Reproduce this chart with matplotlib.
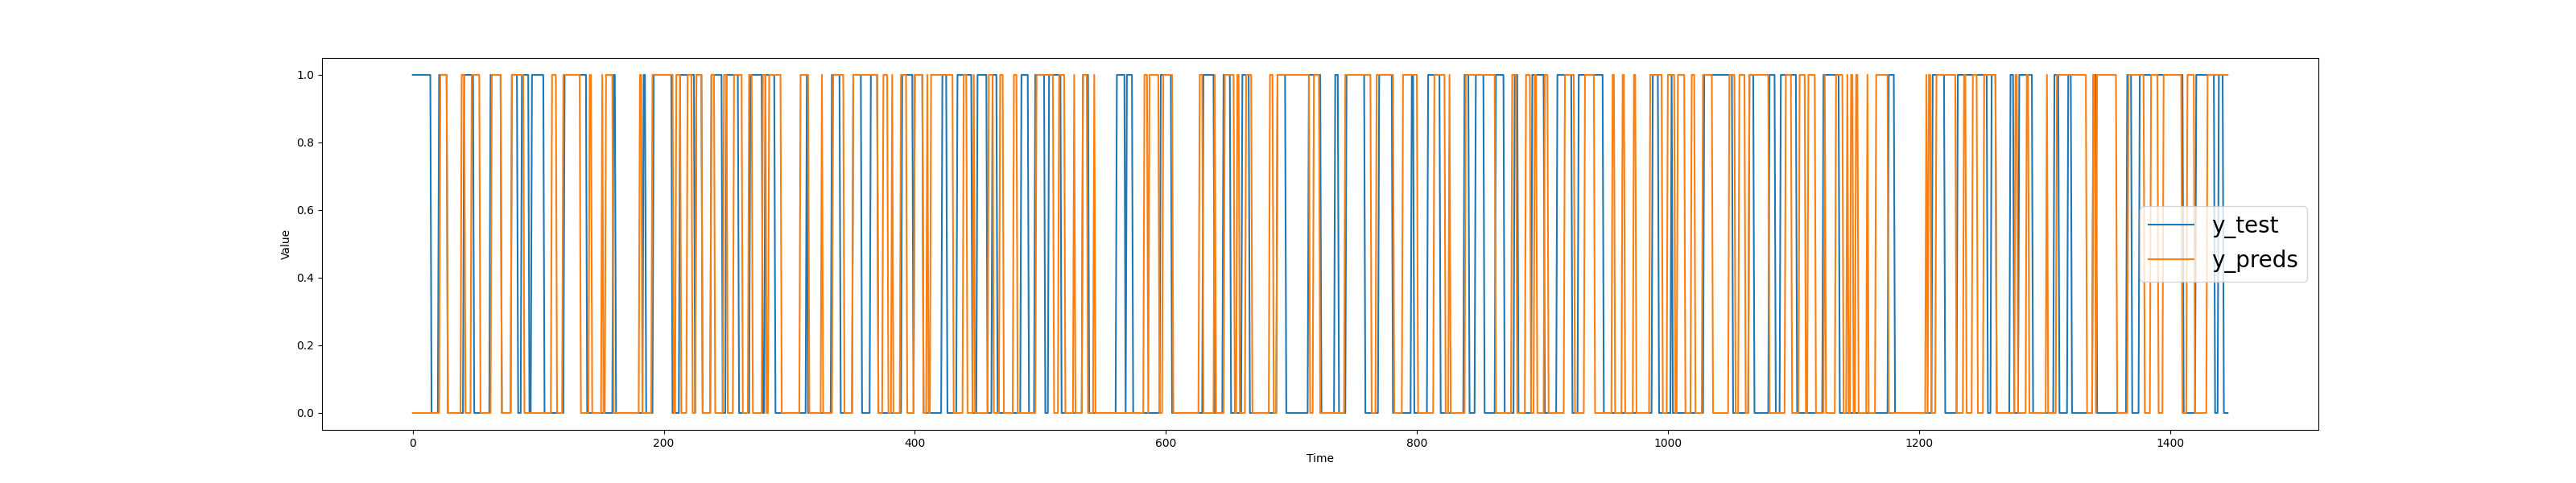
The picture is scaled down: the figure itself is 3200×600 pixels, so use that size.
import numpy as np
import matplotlib
matplotlib.use("Agg")
import matplotlib.pyplot as plt

n_points = 1447

# runs where the series is 1 (start, end)
test_ones = [(0, 15), (21, 28), (41, 49), (62, 71), (79, 84), (87, 93), (95, 105), (121, 139),
             (160, 162), (184, 186), (192, 207), (213, 225), (226, 231), (238, 247), (250, 260),
             (269, 279), (281, 289),
             (314, 315), (334, 341), (351, 358), (365, 371), (390, 399), (400, 407), (422, 426),
             (434, 446), (450, 458), (462, 466), (485, 491), (496, 504), (507, 517), (534, 539),
             (561, 568), (569, 574),
             (596, 605), (630, 639), (646, 652), (661, 667), (689, 696), (714, 724),
             (735, 738), (744, 759), (770, 781), (796, 798), (809, 819), (838, 842), (847, 854),
             (863, 870), (878, 881), (892, 902), (912, 924), (929, 949), (988, 993), (1003, 1004),
             (1029, 1052), (1065, 1069), (1081, 1086), (1090, 1103), (1124, 1137),
             (1176, 1181), (1211, 1221), (1231, 1255), (1258, 1262), (1273, 1276), (1280, 1291),
             (1308, 1312), (1319, 1322), (1339, 1342), (1366, 1370), (1376, 1411), (1421, 1436),
             (1439, 1443)]

preds_ones = [(22, 28), (39, 42), (47, 54), (63, 71), (79, 89), (111, 115), (120, 134), (141, 143),
              (151, 152), (154, 160), (181, 183), (191, 208), (210, 214), (219, 223), (226, 231),
              (238, 241), (248, 251), (256, 263), (268, 271), (279, 282), (284, 294),
              (309, 316), (326, 327), (335, 344), (351, 371), (375, 379), (382, 383), (389, 394),
              (400, 407), (410, 411), (413, 431),
              (439, 442), (447, 448), (459, 463), (468, 471), (479, 482), (497, 511), (515, 520),
              (527, 528), (534, 538), (543, 544),
              (583, 586), (587, 595), (598, 606), (627, 630), (639, 640), (647, 655), (657, 659),
              (664, 669), (683, 686), (689, 715), (718, 723),
              (743, 764), (768, 782), (789, 801), (814, 823), (826, 827), (839, 863),
              (876, 880), (887, 891), (894, 896), (902, 905), (918, 926), (934, 942), (956, 958),
              (964, 966), (973, 975), (986, 996), (1000, 1006),
              (1008, 1014), (1019, 1022), (1028, 1036), (1049, 1054), (1057, 1062), (1065, 1081),
              (1094, 1099), (1105, 1110), (1112, 1118), (1125, 1126), (1134, 1140), (1143, 1144),
              (1146, 1148), (1150, 1152),
              (1159, 1160), (1166, 1176), (1206, 1207), (1208, 1210), (1214, 1230), (1236, 1238),
              (1243, 1247), (1252, 1262), (1277, 1279), (1286, 1288),
              (1302, 1303), (1310, 1334), (1339, 1341), (1342, 1358), (1367, 1380), (1385, 1391),
              (1395, 1410), (1414, 1420), (1430, 1447)]

y_test = np.zeros(n_points)
for s, e in test_ones:
    y_test[s:e] = 1
y_preds = np.zeros(n_points)
for s, e in preds_ones:
    y_preds[s:e] = 1

t = np.arange(n_points)

plt.figure(figsize=(32, 6), dpi=100)
plt.plot(t, y_test, label='y_test')
plt.plot(t, y_preds, label='y_preds')
plt.xlabel('Time')
plt.ylabel('Value')
plt.legend(fontsize=20)
plt.savefig('out.png', dpi=100)
